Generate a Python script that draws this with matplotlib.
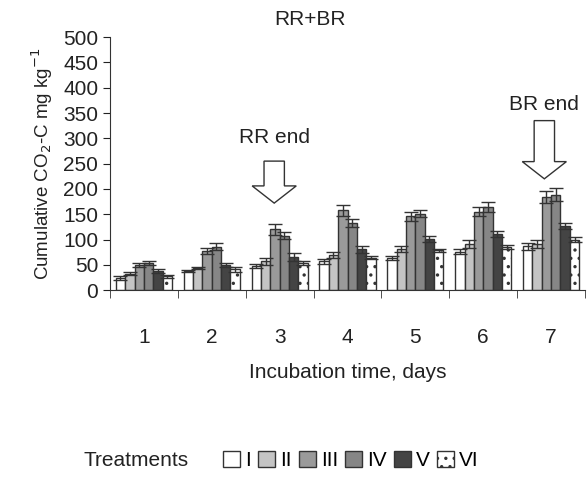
import numpy as np
import matplotlib
matplotlib.use('Agg')
from matplotlib import pyplot as plt
from matplotlib.patches import Patch, FancyArrow

plt.rcParams['font.family'] = ['Liberation Sans', 'DejaVu Sans']

days = [1, 2, 3, 4, 5, 6, 7]
treatments = ['I', 'II', 'III', 'IV', 'V', 'VI']

# cumulative CO2-C, one list per treatment (days 1..7)
t1 = [24, 37, 47, 57, 63, 76, 87]
t2 = [32, 43, 57, 70, 82, 91, 92]
t3 = [50, 77, 120, 158, 146, 155, 184]
t4 = [53, 86, 108, 133, 151, 164, 189]
t5 = [38, 50, 66, 81, 102, 111, 127]
t6 = [27, 41, 54, 64, 79, 85, 100]

e1 = [3, 2, 4, 5, 4, 5, 7]
e2 = [3, 2, 7, 6, 6, 8, 8]
e3 = [4, 6, 11, 11, 9, 9, 12]
e4 = [4, 7, 7, 8, 7, 10, 12]
e5 = [4, 4, 8, 7, 6, 6, 6]
e6 = [3, 5, 4, 3, 3, 4, 5]

values = [t1, t2, t3, t4, t5, t6]
errors = [e1, e2, e3, e4, e5, e6]
colors = ['white', '#c4c4c4', '#9a9a9a', '#868686', '#444444', 'white']
hatches = [None, None, None, None, None, '..']

plt.rcParams['hatch.linewidth'] = 1.2
plt.rcParams['hatch.color'] = '#111111'

fig = plt.figure(figsize=(5.88, 4.82), dpi=100)
ax = fig.add_axes([0.187, 0.398, 0.808, 0.525])

x = np.array(days)
w = 0.138
for j in range(6):
    pos = x + (j - 2.5) * w
    ax.bar(pos, values[j], w, color=colors[j], edgecolor='#333333',
           linewidth=1.0, hatch=hatches[j], zorder=2)
    ax.errorbar(pos, values[j], yerr=errors[j], fmt='none', ecolor='#333333',
                elinewidth=1.0, capsize=5, capthick=1.0, zorder=3)

ax.set_xlim(0.5, 7.5)
ax.set_ylim(0, 500)
ax.set_yticks(range(0, 501, 50))
ax.set_xticks(days)
ax.set_xticks(np.arange(0.5, 7.6, 1), minor=True)
ax.tick_params(axis='x', which='major', length=0, pad=27, labelsize=15, colors='#222222')
ax.tick_params(axis='x', which='minor', length=6, direction='out', color='#333333')
ax.tick_params(axis='y', length=5, direction='out', labelsize=15, colors='#222222')
ax.spines['top'].set_visible(False)
ax.spines['right'].set_visible(False)
ax.spines['left'].set_color('#333333')
ax.spines['bottom'].set_color('#333333')

ax.set_ylabel('Cumulative CO$_2$-C mg kg$^{-1}$', fontsize=13.5, color='#222222', labelpad=6)
ax.set_xlabel('Incubation time, days', fontsize=15, color='#222222', labelpad=12)

# end-of-phase arrows
for xc, ytop, ytip, label, ytxt in [(2.92, 255, 172, 'RR end', 302),
                                     (6.9, 335, 220, 'BR end', 367)]:
    ax.add_patch(FancyArrow(xc, ytop, 0, ytip - ytop, width=0.3, head_width=0.65,
                            head_length=34, length_includes_head=True,
                            facecolor='white', edgecolor='#333333', linewidth=1.0,
                            zorder=4))
    ax.text(xc, ytxt, label, ha='center', va='center', fontsize=15, color='#222222')

fig.text(0.527, 0.96, 'RR+BR', ha='center', va='center', fontsize=15, color='#222222')

handles = [Patch(facecolor=colors[j], edgecolor='#333333', hatch=hatches[j], label=treatments[j])
           for j in range(6)]
fig.text(0.142, 0.044, 'Treatments', ha='left', va='center', fontsize=15, color='#222222')
fig.legend(handles=handles, loc='center left', bbox_to_anchor=(0.38, 0.044), ncol=6,
           frameon=False, handlelength=0.8, handleheight=0.8, handletextpad=0.25,
           columnspacing=0.35, fontsize=15, borderaxespad=0, borderpad=0)

fig.savefig('out.png', dpi=100)
